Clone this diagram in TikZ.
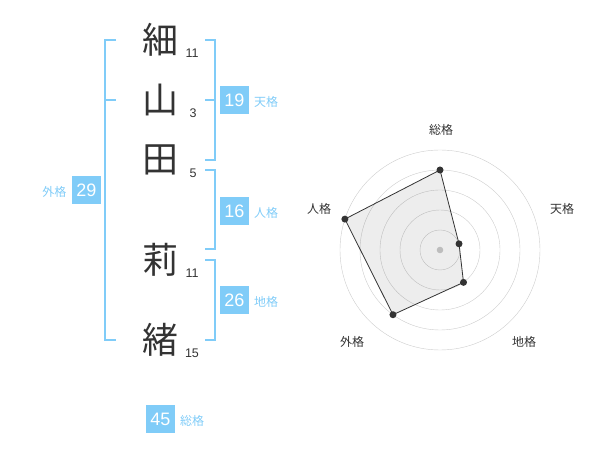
\documentclass[tikz,border=0pt]{standalone}
\usepackage{fontspec}
\setmainfont{Liberation Sans}
\newfontfamily\jp{Noto Sans CJK JP}
\usepackage{tikz}
\usetikzlibrary{positioning}
\definecolor{sky}{HTML}{80CCF8}
\definecolor{ink}{HTML}{333333}
\definecolor{ring}{HTML}{CCCCCC}
\tikzset{
 kanji/.style={font=\jp\fontsize{36}{36}\selectfont,text=ink,inner sep=0pt},
 strokes/.style={font=\fontsize{12.5}{12.5}\selectfont,text=ink,inner sep=0pt},
 valbox/.style={fill=sky,text=white,minimum size=28.5pt,inner sep=0pt,font=\fontsize{18}{18}\selectfont},
 kaku/.style={font=\jp\fontsize{12}{12}\selectfont,text=sky,inner sep=0pt},
 bracket/.style={draw=sky,line width=2pt},
 axislabel/.style={font=\jp\fontsize{12}{12}\selectfont,text=ink,inner sep=0pt}
}

\begin{document}
\begin{tikzpicture}[x=1pt,y=-1pt]
 \useasboundingbox (0,0) rectangle (600,470);
 % the name, one character a line
 \node[kanji] (c1) at (160,40) {細};
 \node[kanji] (c2) at (160,100) {山};
 \node[kanji] (c3) at (160,160) {田};
 \node[kanji] (c4) at (160,260) {莉};
 \node[kanji] (c5) at (160,340) {緒};
 \node[strokes] (s1) at (192,53) {11};
 \node[strokes] (s2) at (193,113) {3};
 \node[strokes] (s3) at (193,173) {5};
 \node[strokes] (s4) at (192,273) {11};
 \node[strokes] (s5) at (192,353) {15};
 % brackets
 \draw[bracket] (116,40) -- (105,40) -- (105,340) -- (116,340);
 \draw[bracket] (105,100) -- (116,100);
 \draw[bracket] (205,40) -- (214.5,40) -- (214.5,160) -- (205,160);
 \draw[bracket] (214.5,100) -- (205,100);
 \draw[bracket] (205,170) -- (214.5,170) -- (214.5,249) -- (205,249);
 \draw[bracket] (205,260) -- (214.5,260) -- (214.5,340) -- (205,340);
 % sums
 \node[valbox] (ten) at (234.5,100) {19};
 \node[valbox] (jin) at (234.5,211) {16};
 \node[valbox] (chi) at (234.5,300) {26};
 \node[valbox] (gai) at (86.5,190) {29};
 \node[valbox] (sou) at (160.5,419) {45};
 \node[kaku,right=5pt of ten.base east,anchor=base west] (tenl) {天格};
 \node[kaku,right=5pt of jin.base east,anchor=base west] (jinl) {人格};
 \node[kaku,right=5pt of chi.base east,anchor=base west] (chil) {地格};
 \node[kaku,left=5.5pt of gai.base west,anchor=base east] (gail) {外格};
 \node[kaku,right=5pt of sou.base east,anchor=base west] (soul) {総格};
 % radar
 \begin{scope}[shift={(440,250)},y=1pt]
  \foreach \r in {20,40,...,100}
   \draw[ring] (0,0) circle (\r);
  \fill[ring] (0,0) circle (3.3);
  \foreach \a/\v/\n in {90/4/1,18/1/2,-54/2/3,-126/4/4,162/5/5}
   \coordinate (p\n) at ({\a}:{20*\v});
  \filldraw[fill=black,fill opacity=.07,draw=ink,line width=.8pt]
   (p1) -- (p2) -- (p3) -- (p4) -- (p5) -- cycle;
  \foreach \n in {1,...,5}
   \fill[ink] (p\n) circle (3.5);
  \node[axislabel] (lsou) at (1,120) {総格};
  \node[axislabel] (lten) at (122,41) {天格};
  \node[axislabel] (lchi) at (84,-92) {地格};
  \node[axislabel] (lgai) at (-88,-92) {外格};
  \node[axislabel] (ljin) at (-121,41) {人格};
 \end{scope}
\end{tikzpicture}
\end{document}
